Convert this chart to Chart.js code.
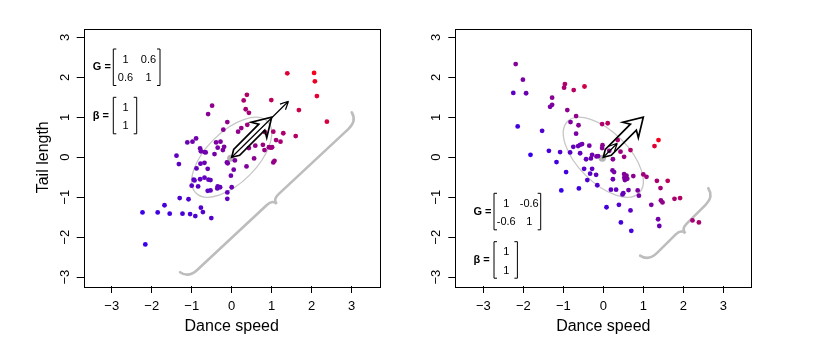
<!DOCTYPE html>
<html>
<head>
<meta charset="utf-8">
<script src="https://cdn.jsdelivr.net/npm/chart.js@4"></script>
<style>
  body { margin: 0; background: #fff; }
  #wrap { position: relative; width: 822px; height: 349px; }
  .panel { position: absolute; top: 0; width: 411px; height: 349px; }
</style>
</head>
<body>
<div id="wrap">
  <div class="panel" style="left:0"><canvas id="left"></canvas></div>
  <div class="panel" style="left:411px"><canvas id="right"></canvas></div>
</div>
<script>
// tick values shared by both axes of both panels
const ticksAt = [-3, -2, -1, 0, 1, 2, 3];

// selection gradient and G matrices
const betaVec = [1, 1];
const gA = [[1, 0.6], [0.6, 1]];
const gB = [[1, -0.6], [-0.6, 1]];

// left panel: positive genetic correlation
const speedA = [1.39, 2.06, 2.08, 2.13, 2.38, 1.68, 0.38, 0.30, 0.99, 0.35, 0.43, -0.49, -0.59, -0.11, 0.39,
  0.24, 0.16, -0.21, 0.83, 1.04, 1.29, 1.60, 1.11, 1.22, -0.89, -0.98, -1.11, -0.39, -0.28, -0.19,
  -0.22, -0.35, -0.79, -0.77, -0.68, -0.65, -0.43, -1.38, -1.32, 0.43, 0.59, 0.78, 0.93, 0.98, 1.01,
  0.82, 0.56, 0.37, 1.07, 1.04, 0.08, -0.10, -0.12, 0.05, -0.02, 0.00, -0.11, -0.11, -0.68, -0.78,
  -0.60, -0.88, -0.68, -0.58, -0.53, -0.79, -0.93, -0.95, -1.00, -0.84, -0.35, -0.36, -0.29, -0.60, -0.53,
  -1.30, -1.08, -1.68, -2.23, -1.85, -1.55, -1.23, -1.04, -0.91, -0.77, -0.72, -0.51, -2.16];
const tailA = [2.10, 2.11, 1.90, 1.53, 0.89, 1.18, 1.56, 1.42, 1.43, 1.20, 1.11, 1.29, 1.08, 0.88, 0.81,
  0.73, 0.64, 0.69, 0.63, 0.64, 0.60, 0.53, 0.43, 0.39, 0.47, 0.39, 0.37, 0.37, 0.39, 0.26,
  0.18, 0.24, 0.22, 0.15, 0.13, 0.12, 0.08, 0.04, -0.17, 0.23, 0.29, 0.31, 0.25, 0.24, 0.25,
  0.18, -0.03, -0.23, -0.09, -0.13, -0.08, -0.15, -0.13, -0.31, -0.46, -0.75, -0.88, -1.04, -0.14, -0.16,
  -0.29, -0.28, -0.51, -0.56, -0.57, -0.55, -0.58, -0.56, -0.71, -0.73, -0.73, -0.78, -0.75, -0.84, -0.83,
  -1.02, -1.05, -1.20, -1.38, -1.38, -1.41, -1.41, -1.42, -1.47, -1.26, -1.37, -1.52, -2.18];

// right panel: negative genetic correlation
const speedB = [-2.19, -2.01, -2.25, -1.93, -0.96, -0.98, -0.74, -0.47, -1.28, -1.28, -1.33, -0.90, -0.68, -0.82, -0.62,
  -0.68, -0.03, 0.11, -2.14, -1.53, 1.38, 1.28, -0.75, -0.58, -0.53, -0.35, -0.63, -0.83, -0.58, -1.36,
  -1.08, -1.82, -1.17, -0.93, -0.43, -0.28, -0.31, -0.13, -0.17, -0.02, -0.03, 0.15, 0.24, 0.36, 0.43,
  0.68, 0.52, -0.48, -0.28, -0.33, -0.18, -0.40, -0.15, -0.61, -1.05, 0.23, 0.27, 0.24, 0.52, 0.525,
  0.58, 0.60, 0.54, 0.75, 1.00, 1.08, 0.19, 0.32, 0.50, 0.48, 0.63, 0.86, 0.89, 1.34, 1.61,
  1.43, 1.44, 1.48, 1.20, 1.78, 1.92, 0.08, 0.39, 0.68, 0.44, 0.70, 1.37, 1.40, 2.23, 2.39];
const tailB = [2.33, 1.94, 1.61, 1.60, 1.83, 1.74, 1.68, 1.77, 1.49, 1.31, 1.26, 1.18, 1.03, 0.88, 0.80,
  0.59, 0.83, 0.85, 0.77, 0.66, 0.43, 0.28, 0.26, 0.31, 0.33, 0.29, 0.28, 0.12, 0.10, 0.16,
  0.13, 0.06, -0.12, -0.37, -0.05, 0.06, -0.03, 0.03, 0.02, 0.30, 0.23, 0.16, -0.05, 0.43, 0.14,
  0.18, 0.01, -0.29, -0.29, -0.41, -0.44, -0.57, -0.70, -0.78, -0.83, -0.33, -0.37, -0.55, -0.42, -0.51,
  -0.46, -0.54, -0.57, -0.47, -0.43, -0.49, -0.81, -0.81, -0.90, -0.93, -0.82, -0.83, -0.96, -0.59, -0.59,
  -0.77, -1.08, -1.13, -1.19, -1.04, -1.02, -1.25, -1.19, -1.33, -1.63, -1.84, -1.55, -1.72, -1.58, -1.63];

// response arrows (G times beta, as drawn)
const responseA = [1.42, 1.40];
const responseB = [0.35, 0.35];

const FONT = '"Liberation Sans", Arial, Helvetica, sans-serif';

// blue -> purple -> red, pushed a bit toward the blue end like the original
function ramp(t) {
  t = Math.pow(Math.max(0, Math.min(1, t)), 1.5);
  const r = Math.round(55 + (245 - 55) * t);
  const b = Math.round(235 + (30 - 235) * t);
  return `rgb(${r},0,${b})`;
}

function drawBrace(ctx, p1, p2, away, w1, w2) {
  const dx = p2[0] - p1[0], dy = p2[1] - p1[1], L = Math.hypot(dx, dy);
  const u = [dx / L, dy / L];
  let n = [-u[1], u[0]];
  const mid = [(p1[0] + p2[0]) / 2, (p1[1] + p2[1]) / 2];
  if ((mid[0] - away[0]) * n[0] + (mid[1] - away[1]) * n[1] < 0) n = [-n[0], -n[1]];
  const P = (s, t) => [p1[0] + u[0] * s + n[0] * t, p1[1] + u[1] * s + n[1] * t];
  const r1 = 14, r2 = 8, h = L / 2;
  const seg = [
    ['M', P(0, 0)],
    ['Q', P(2, w1), P(r1, w1)],
    ['L', P(h - r2, w1)],
    ['Q', P(h, w1), P(h, w1 + w2)],
    ['Q', P(h, w1), P(h + r2, w1)],
    ['L', P(L - r1, w1)],
    ['Q', P(L - 2, w1), P(L, 0)]
  ];
  ctx.beginPath();
  seg.forEach(s => {
    if (s[0] === 'M') ctx.moveTo(s[1][0], s[1][1]);
    else if (s[0] === 'L') ctx.lineTo(s[1][0], s[1][1]);
    else ctx.quadraticCurveTo(s[1][0], s[1][1], s[2][0], s[2][1]);
  });
  ctx.stroke();
}

function hollowArrow(ctx, o, t) {
  const dx = t[0] - o[0], dy = t[1] - o[1], L = Math.hypot(dx, dy);
  const u = [dx / L, dy / L], n = [-u[1], u[0]];
  const P = (s, w) => [o[0] + u[0] * s + n[0] * w, o[1] + u[1] * s + n[1] * w];
  const hl = 18, hw = 11, sw = 4.2;
  const pts = [P(0, 0), P(7, sw), P(L - hl + 4, sw), P(L - hl, hw), P(L, 0),
    P(L - hl, -hw), P(L - hl + 4, -sw), P(7, -sw)];
  ctx.beginPath();
  pts.forEach((p, i) => i ? ctx.lineTo(p[0], p[1]) : ctx.moveTo(p[0], p[1]));
  ctx.closePath();
  ctx.stroke();
}

function thinArrow(ctx, o, t) {
  const ang = Math.atan2(t[1] - o[1], t[0] - o[0]);
  ctx.beginPath();
  ctx.moveTo(o[0], o[1]);
  ctx.lineTo(t[0], t[1]);
  [0.45, -0.45].forEach(a => {
    ctx.moveTo(t[0], t[1]);
    ctx.lineTo(t[0] - 9 * Math.cos(ang + a), t[1] - 9 * Math.sin(ang + a));
  });
  ctx.stroke();
}

function matrixBlock(ctx, x0, y0, label, rows) {
  const h = 36.5;
  const wBr = rows[0].length === 2 ? 46.7 : 23.4;
  ctx.fillStyle = '#000';
  ctx.font = 'bold 11px ' + FONT;
  ctx.textAlign = 'left';
  ctx.textBaseline = 'middle';
  ctx.fillText(label, x0 - 20.5, y0 + h / 2);
  ctx.strokeStyle = '#000';
  ctx.lineWidth = 1;
  ctx.beginPath();
  ctx.moveTo(x0 + 3, y0); ctx.lineTo(x0, y0); ctx.lineTo(x0, y0 + h); ctx.lineTo(x0 + 3, y0 + h);
  ctx.moveTo(x0 + wBr - 3, y0); ctx.lineTo(x0 + wBr, y0); ctx.lineTo(x0 + wBr, y0 + h); ctx.lineTo(x0 + wBr - 3, y0 + h);
  ctx.stroke();
  ctx.font = '11px ' + FONT;
  ctx.textAlign = 'center';
  rows.forEach((row, i) => row.forEach((v, j) => {
    ctx.fillText(String(v), x0 + 12.2 + 23 * j, y0 + 10.5 + 18.5 * i);
  }));
}

const deco = {
  id: 'deco',
  beforeDatasetsDraw(chart, args, o) {
    const { ctx, scales: { x, y } } = chart;
    const cx = x.getPixelForValue(0), cy = y.getPixelForValue(0);
    const ux = x.getPixelForValue(1) - cx;
    const r = o.g[0][1];
    const a = Math.sqrt(1 + Math.abs(r)), b = Math.sqrt(1 - Math.abs(r));
    ctx.save();
    ctx.strokeStyle = '#c6c6c6';
    ctx.lineWidth = 1.3;
    ctx.beginPath();
    ctx.ellipse(cx, cy, a * ux, b * ux, r > 0 ? -Math.PI / 4 : Math.PI / 4, 0, 2 * Math.PI);
    ctx.stroke();
    ctx.strokeStyle = '#bdbdbd';
    ctx.lineWidth = 2.6;
    ctx.lineCap = 'round';
    const p1 = [x.getPixelForValue(o.brace[0][0]), y.getPixelForValue(o.brace[0][1])];
    const p2 = [x.getPixelForValue(o.brace[1][0]), y.getPixelForValue(o.brace[1][1])];
    drawBrace(ctx, p1, p2, [cx, cy], 10, 6);
    ctx.fillStyle = '#b4b4b4';
    ctx.beginPath();
    ctx.arc(cx - 1, cy + 1, 3.6, 0, 2 * Math.PI);
    ctx.fill();
    ctx.restore();
  },
  afterDatasetsDraw(chart, args, o) {
    const { ctx, scales: { x, y } } = chart;
    const O = [x.getPixelForValue(0), y.getPixelForValue(0)];
    ctx.save();
    ctx.strokeStyle = '#000';
    ctx.lineJoin = 'miter';
    ctx.lineWidth = 1.7;
    hollowArrow(ctx, O, [x.getPixelForValue(betaVec[0]), y.getPixelForValue(betaVec[1])]);
    ctx.lineWidth = 1.2;
    thinArrow(ctx, O, [x.getPixelForValue(o.resp[0]), y.getPixelForValue(o.resp[1])]);
    ctx.restore();
  },
  afterDraw(chart, args, o) {
    const { ctx, chartArea: ca, scales: { x, y } } = chart;
    ctx.save();
    ctx.strokeStyle = '#000';
    ctx.lineWidth = 1;
    ctx.strokeRect(Math.round(ca.left) + 0.5, Math.round(ca.top) + 0.5,
      Math.round(ca.right - ca.left), Math.round(ca.bottom - ca.top));
    ctx.fillStyle = '#000';
    ctx.font = '13px ' + FONT;
    ctx.textAlign = 'center';
    ctx.textBaseline = 'middle';
    const lab = v => v < 0 ? '\u2212' + Math.abs(v) : String(v);
    ticksAt.forEach(v => ctx.fillText(lab(v), x.getPixelForValue(v), ca.bottom + 20));
    ticksAt.forEach(v => {
      ctx.save();
      ctx.translate(ca.left - 18.5, y.getPixelForValue(v));
      ctx.rotate(-Math.PI / 2);
      ctx.fillText(lab(v), 0, 0);
      ctx.restore();
    });
    ctx.font = '16px ' + FONT;
    ctx.fillText('Dance speed', (ca.left + ca.right) / 2, ca.bottom + 40.6);
    if (o.yTitle) {
      ctx.save();
      ctx.translate(ca.left - 40.4, (ca.top + ca.bottom) / 2);
      ctx.rotate(-Math.PI / 2);
      ctx.fillText(o.yTitle, 0, 0);
      ctx.restore();
    }
    matrixBlock(ctx, ca.left + o.bx, ca.top + o.gy, 'G =', o.g);
    matrixBlock(ctx, ca.left + o.bx, ca.top + o.by, '\u03b2 =', betaVec.map(v => [v]));
    ctx.restore();
  }
};

function makeChart(id, xs, ys, cfg) {
  const fit = xs.map((v, i) => betaVec[0] * v + betaVec[1] * ys[i]);
  const lo = Math.min(...fit), hi = Math.max(...fit);
  const tickSetup = s => { s.ticks = ticksAt.map(v => ({ value: v })); };
  return new Chart(document.getElementById(id), {
    type: 'scatter',
    data: {
      datasets: [{
        data: xs.map((v, i) => ({ x: v, y: ys[i] })),
        pointRadius: 2.4,
        pointHoverRadius: 2.4,
        borderWidth: 0,
        backgroundColor: c => c.raw ? ramp((betaVec[0] * c.raw.x + betaVec[1] * c.raw.y - lo) / (hi - lo)) : '#808'
      }]
    },
    options: {
      responsive: true,
      maintainAspectRatio: false,
      animation: false,
      devicePixelRatio: 1,
      events: [],
      layout: { padding: { top: 28.5, right: cfg.padR, left: 0, bottom: 0 } },
      plugins: {
        legend: { display: false },
        tooltip: { enabled: false },
        deco: cfg.deco
      },
      scales: {
        x: {
          type: 'linear', min: -3.7, max: 3.7,
          afterBuildTicks: tickSetup,
          afterFit: s => { s.height = 63; },
          ticks: { display: false },
          grid: { drawOnChartArea: false, tickLength: 7, color: '#000', lineWidth: 1 },
          border: { display: false }
        },
        y: {
          type: 'linear', min: -3.22, max: 3.22,
          afterBuildTicks: tickSetup,
          afterFit: s => { s.width = cfg.axisW; },
          ticks: { display: false },
          grid: { drawOnChartArea: false, tickLength: 7, color: '#000', lineWidth: 1 },
          border: { display: false }
        }
      }
    },
    plugins: [deco]
  });
}

makeChart('left', speedA, tailA, {
  padR: 31.3, axisW: 83.7,
  deco: { g: gA, resp: responseA, brace: [[-1.29, -2.875], [3.0, 1.125]], bx: 29.6, gy: 20.5, by: 68.8, yTitle: 'Tail length' }
});
makeChart('right', speedB, tailB, {
  padR: 70.7, axisW: 44.3,
  deco: { g: gB, resp: responseB, brace: [[0.92, -2.46], [2.625, -0.775]], bx: 38.7, gy: 164.8, by: 213.2, yTitle: '' }
});
</script>
</body>
</html>
